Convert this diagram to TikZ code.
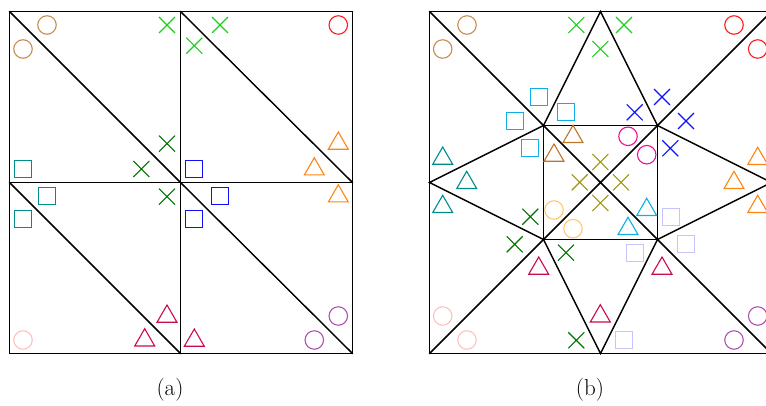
\documentclass[tikz,border=0pt]{standalone}
\usetikzlibrary{shapes.geometric,shapes.misc}
\definecolor{cbrown}{HTML}{C88C50}
\definecolor{cred}{HTML}{FF1A1A}
\definecolor{cgreen}{HTML}{1CD01C}
\definecolor{cdkgreen}{HTML}{007000}
\definecolor{cteal}{HTML}{008C8C}
\definecolor{cblue}{HTML}{1010FF}
\definecolor{corange}{HTML}{FF8510}
\definecolor{ccrimson}{HTML}{C80A50}
\definecolor{cpink}{HTML}{FFC0C0}
\definecolor{cpurple}{HTML}{B050B0}
\definecolor{ccyan}{HTML}{10AEE8}
\definecolor{clav}{HTML}{C4C4FF}
\definecolor{cmag}{HTML}{EE1090}
\definecolor{colive}{HTML}{A09410}
\definecolor{clorange}{HTML}{FFC870}
\definecolor{ctbrown}{HTML}{C07428}
\tikzset{
  edge/.style={draw=black,line width=1.45pt,line cap=round},
  mk/.style={line width=1.1pt,inner sep=0pt,outer sep=0pt},
  circ/.style={mk,draw=#1,shape=circle,minimum size=18.5pt},
  sq/.style={mk,draw=#1,line width=1.3pt,shape=rectangle,minimum size=17pt},
  crs/.style={mk,draw=#1,shape=cross out,minimum size=16pt},
  tri/.style={mk,draw=#1,shape=regular polygon,regular polygon sides=3,minimum size=23pt},
  lab/.style={inner sep=0pt,font=\fontsize{23}{26}\selectfont}
}
\newcommand{\mkset}[3]{\foreach \mx/\my [count=\mi] in {#3}{\node[#1=#2] (#2-#1-\mi) at (\mx,\my) {};}}
\begin{document}
\begin{tikzpicture}[x=1pt,y=-1pt]
\useasboundingbox (0,0) rectangle (766,406);
\clip (0,0) rectangle (766,406);
% panel (a) vertices
\coordinate (a1) at (9.5,11.5);   \coordinate (a2) at (180.5,11.5);  \coordinate (a3) at (352.5,11.5);
\coordinate (a4) at (9.5,182.5);  \coordinate (a5) at (180.5,182.5); \coordinate (a6) at (352.5,182.5);
\coordinate (a7) at (9.5,353.5);  \coordinate (a8) at (180.5,353.5); \coordinate (a9) at (352.5,353.5);
\draw[edge] (a1) -- (a3) -- (a9) -- (a7) -- cycle;
\draw[edge] (a2) -- (a8) (a4) -- (a6);
\draw[edge] (a1) -- (a5) -- (a9) (a2) -- (a6) (a4) -- (a8);
% panel (b) vertices
\coordinate (b1) at (429.5,11.5);  \coordinate (b2) at (600.5,11.5);  \coordinate (b3) at (771.5,11.5);
\coordinate (b4) at (429.5,182.5); \coordinate (b6) at (771.5,182.5);
\coordinate (b7) at (429.5,353.5); \coordinate (b8) at (600.5,353.5); \coordinate (b9) at (771.5,353.5);
\coordinate (i1) at (543.5,125.5); \coordinate (i2) at (657.5,125.5);
\coordinate (i3) at (657.5,239.5); \coordinate (i4) at (543.5,239.5);
\draw[edge] (b1) -- (b3) -- (b9) -- (b7) -- cycle;
\draw[edge] (i1) -- (i2) -- (i3) -- (i4) -- cycle;
\draw[edge] (b1) -- (i1) -- (i3) -- (b9) (b3) -- (i2) -- (i4) -- (b7);
\draw[edge] (i1) -- (b2) -- (i2) -- (b6) -- (i3) -- (b8) -- (i4) -- (b4) -- cycle;
% panel (a) marks
\mkset{circ}{cbrown}{47/25,23/49}
\mkset{crs}{cgreen}{167/25,220/25,194.3/45.7}
\mkset{crs}{cdkgreen}{167/143.7,141.3/169,167/196.7}
\mkset{sq}{cteal}{23/169,47/196,23/219}
\mkset{circ}{cred}{338.3/25}
\mkset{tri}{corange}{338.3/143.5,314.3/169.2,338.3/196.2}
\mkset{sq}{cblue}{194/169,220/196,194/219}
\mkset{tri}{ccrimson}{167/316.5,144.7/340.2,194.3/340.5}
\mkset{circ}{cpink}{23/340}
\mkset{circ}{cpurple}{338.3/316,314.3/340}
% panel (b) marks
\mkset{circ}{cbrown}{467/25,442.7/49}
\mkset{crs}{cgreen}{576.3/25,624/25,600.3/49}
\mkset{circ}{cred}{734/25,757.7/49}
\mkset{sq}{ccyan}{539/97,515/121,566/112,530/148}
\mkset{tri}{ctbrown}{573/136.8,554/155.5}
\mkset{tri}{cteal}{442.7/158.5,466.7/182.8,442.7/206.8}
\mkset{crs}{cdkgreen}{530.3/216.7,514.7/244.3,566/252.7,576.3/340.3}
\mkset{circ}{clorange}{554/210,573/228.7}
\mkset{tri}{ccrimson}{538.7/268.5,662/268.5,600.3/316.2}
\mkset{circ}{cpink}{442.7/316,467/340}
\mkset{crs}{cblue}{662/97,634.7/112.3,686/121,670.3/148.3}
\mkset{circ}{cmag}{628/136.3,646.7/154.7}
\mkset{tri}{corange}{757.7/158.8,734/182.8,757.7/206.8}
\mkset{tri}{ccyan}{646.7/209.8,628/228.8}
\mkset{sq}{clav}{671/217,686/244,635/253,624/340}
\mkset{circ}{cpurple}{734/340,757.7/316}
\mkset{crs}{colive}{600.3/162,579.7/182.3,621/182.3,600.3/203}
% captions
\node[lab] (capa) at (170,390) {(a)};
\node[lab] (capb) at (590,390) {(b)};
\end{tikzpicture}
\end{document}
